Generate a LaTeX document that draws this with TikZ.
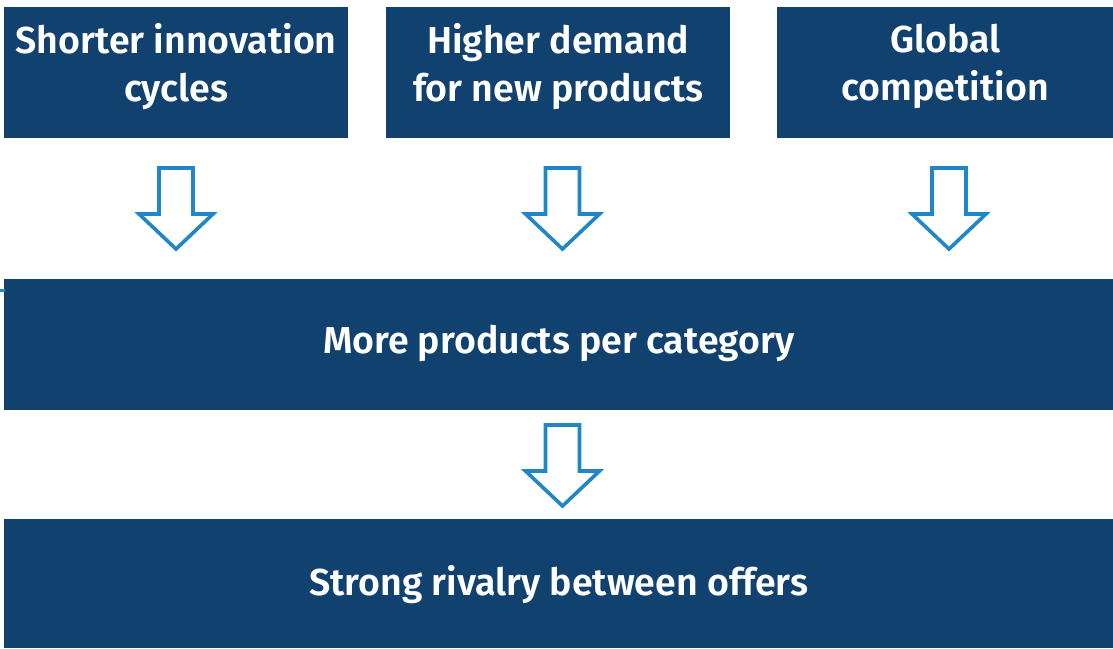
\documentclass[tikz,border=0pt]{standalone}
\usepackage{fontspec}
\setmainfont{Fira Sans}[BoldFont={Fira Sans SemiBold}]
\usetikzlibrary{positioning}
\definecolor{boxblue}{HTML}{10416F}
\definecolor{arrowblue}{HTML}{1F86C7}
\begin{document}
\begin{tikzpicture}[x=1pt,y=-1pt,
  box/.style={fill=boxblue,draw=none,inner sep=0pt,anchor=north west},
  boxtext/.style={text=white,font=\fontsize{37.5}{48}\selectfont\bfseries,align=center,inner sep=0pt},
  hollowarrow/.style={draw=arrowblue,line width=3.6pt,fill=white,line join=miter,miter limit=10},
  downarrow/.pic={\draw[hollowarrow] (-17,0) -- (17,0) -- (17,46) -- (37,46) -- (0,81) -- (-37,46) -- (-17,46) -- cycle;}]
\useasboundingbox (0,0) rectangle (1113,648);
% top row of causes
\node[box,minimum width=344pt,minimum height=131pt] (cycles) at (4,7) {};
\node[box,minimum width=344pt,minimum height=131pt] (demand) at (386,7) {};
\node[box,minimum width=336pt,minimum height=131pt] (global) at (777,7) {};
\node[boxtext] (cyclestext) at ([yshift=6pt]cycles.center) {Shorter innovation\\cycles};
\node[boxtext] (demandtext) at ([yshift=6pt]demand.center) {Higher demand\\for new products};
\node[boxtext] (globaltext) at ([yshift=6pt]global.center) {Global\\competition};
% consequences
\node[box,minimum width=1109pt,minimum height=131pt] (more) at (4,279) {};
\node[box,minimum width=1109pt,minimum height=129pt] (rivalry) at (4,519) {};
\node[boxtext] (moretext) at ([yshift=1pt]more.center) {More products per category};
\node[boxtext] (rivalrytext) at ([yshift=-1pt]rivalry.center) {Strong rivalry between offers};
% arrows between the rows
\coordinate (a1) at (176,168);
\coordinate (a2) at (562.5,168);
\coordinate (a3) at (949,168);
\coordinate (a4) at (562.5,425);
\pic at (a1) {downarrow};
\pic at (a2) {downarrow};
\pic at (a3) {downarrow};
\pic at (a4) {downarrow};
% small mark on the left edge
\coordinate (m0) at (0,290);
\coordinate (m1) at (5,290);
\draw[arrowblue,line width=3pt] (m0) -- (m1);
\end{tikzpicture}
\end{document}
